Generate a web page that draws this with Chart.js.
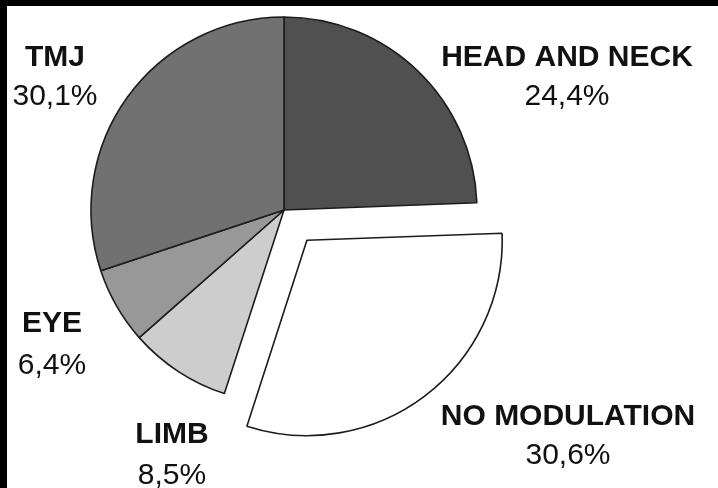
<!DOCTYPE html>
<html>
<head>
    <title>Modulation Site Distribution</title>
    <script src="https://cdn.jsdelivr.net/npm/chart.js"></script>
    <style>
        html, body { margin: 0; padding: 0; background: #000; }
        .frame { position: absolute; left: 7px; top: 6px; width: 711px; height: 482px; background: #fff; }
        canvas { display: block; }
    </style>
</head>
<body>
    <div class="frame">
        <canvas id="site-chart" width="711" height="482"></canvas>
    </div>

    <script>
        const categories = ['HEAD AND NECK', 'NO MODULATION', 'LIMB', 'EYE', 'TMJ'];
        const shares = [24.4, 30.6, 8.5, 6.4, 30.1];
        const sliceColors = ['#505050', '#ffffff', '#cdcdcd', '#989898', '#717171'];
        // Chart.js moves an arc by offset / 4, so 152 pulls the slice out ~38px
        const sliceOffsets = [0, 152, 0, 0, 0];

        // where each caption sits: centre x, name baseline, percent baseline
        const labelSpots = [
            [560, 60, 99],
            [561, 419, 458],
            [165, 437, 478],
            [45, 326, 368],
            [48, 60, 99]
        ];

        function pct(v) {
            return v.toFixed(1).replace('.', ',') + '%';
        }

        const captions = {
            id: 'captions',
            afterDraw(chart) {
                const ctx = chart.ctx;
                ctx.save();
                ctx.fillStyle = '#111';
                ctx.textAlign = 'center';
                ctx.textBaseline = 'alphabetic';
                categories.forEach((name, i) => {
                    const [x, y1, y2] = labelSpots[i];
                    ctx.font = 'bold 30px "Liberation Sans", Arial, sans-serif';
                    ctx.fillText(name, x, y1);
                    ctx.font = '30px "Liberation Sans", Arial, sans-serif';
                    ctx.fillText(pct(shares[i]), x, y2);
                });
                ctx.restore();
            }
        };

        new Chart(document.getElementById('site-chart'), {
            type: 'pie',
            data: {
                labels: categories,
                datasets: [{
                    data: shares,
                    backgroundColor: sliceColors,
                    borderColor: '#1c1c1c',
                    borderWidth: 1.6,
                    offset: sliceOffsets,
                    clip: false
                }]
            },
            options: {
                responsive: false,
                animation: false,
                radius: 193,
                layout: { padding: { left: 0, right: 157, top: 0, bottom: 74 } },
                plugins: {
                    legend: { display: false },
                    tooltip: { enabled: false }
                }
            },
            plugins: [captions]
        });
    </script>
</body>
</html>
